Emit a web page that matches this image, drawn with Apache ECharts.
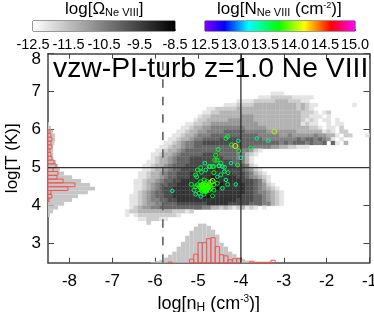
<!DOCTYPE html>
<html><head><meta charset="utf-8">
<style>html,body{margin:0;padding:0;background:#fff}#c{width:374px;height:312px}</style>
<script src="https://cdn.jsdelivr.net/npm/echarts@6/dist/echarts.min.js"></script>
</head><body><div id="c"></div>
<script>
// heat map: bottom edge of log T row, log n of first cell, shade digit per 0.1 dex cell (0 = empty)
const heatT = [6.9,6.8,6.7,6.6,6.6,6.5,6.4,6.3,6.2,6.1,6.0,5.9,5.8,5.8,5.7,5.6,5.5,5.4,5.3,5.2,5.1,5.0,4.9,4.8,4.7,4.6,4.5,4.4,4.3,4.2,4.1,4.0,3.9,3.8,3.7,3.6,3.5];
const heatStart = [-3.3,-3.6,-4.1,-4.4,-1.4,-4.8,-4.9,-5.0,-5.1,-5.3,-5.4,-5.5,-5.6,-1.1,-5.7,-5.8,-5.9,-6.0,-6.1,-6.1,-6.2,-6.3,-6.3,-6.4,-6.4,-6.5,-6.5,-6.5,-6.5,-6.6,-6.6,-6.6,-6.6,-6.7,-6.7,-6.4,-6.2];
const heatShade = [
"111","1112222211111","11112222233322211","1112222333333333323211","1",
"1122222333333333333332321","112233333333333333333332221012","1223333333444333333333332211101",
"1223333344444433333333333212101101","1122334444444444433333333331211001011","11233445555555544444333333333322101102",
"1123344555566666555554444444333333121022","112334555666666666665555544544444544331022","1",
"11233455666677777666665555555565665654101","1123455667777777776666666665656665655606103",
"11233455666666666666665555443322111","11233456666666666666554210","1123345666667777666655321",
"123345666777777776665531","1123345666777777777766531","112334566677777777777766521",
"1123345667777788888777765421","112334566777888888888877765321","1123345667778888899888877654321",
"11233456677888888999888887776531","112345667788888899999888887765421","1123456778888889999988888877654321",
"12345667788888899998888888776554321","112345667788888889998888887776654321","112345566778888888888888877776654321",
"1123445566677777778888877777666553210","12344556666666666553323212312101","1223333333322212","1012222222221","1122211","2"];
// left histogram (fraction per log T bin)
const histTBins = [6.1,6.0,5.9,5.8,5.7,5.6,5.5,5.4,5.3,5.2,5.1,5.0,4.9,4.8,4.7,4.6,4.5,4.4,4.3,4.2,4.1,4.0,3.9,3.8,3.7];
const histTGas = [.003,.009,.016,.022,.022,.020,.016,.016,.016,.017,.025,.031,.037,.050,.075,.103,.131,.146,.124,.093,.075,.050,.031,.016,.006];
const histTAbs = [0,0,.006,.009,.012,.009,.012,.006,.009,.012,.019,.025,.016,.031,.028,.047,.084,.062,.009,.012,.003,0,0,0,0];
// bottom histogram (fraction per log n bin)
const histNBins = [-6.1,-6.0,-5.9,-5.8,-5.7,-5.6,-5.5,-5.4,-5.3,-5.2,-5.1,-5.0,-4.9,-4.8,-4.7,-4.6,-4.5,-4.4,-4.3,-4.2,-4.1,-4.0,-3.9,-3.8,-3.7,-3.6,-3.5,-3.4,-3.3];
const histNGas = [.003,.007,.014,.024,.038,.053,.077,.100,.129,.153,.172,.187,.187,.177,.158,.134,.096,.077,.053,.041,.026,.017,.010,.005,.003,.002,0,0,0];
const histNAbs = [0,0,0,0,.003,0,0,0,0,.017,.041,.096,.096,.115,.120,.077,.038,.033,.014,.019,.019,0,0,.007,.002,.002,.002,.002,.012];
// absorbers
const absN = [-3.22,-4.35,-4.31,-4.06,-3.63,-3.36,-4.22,-4.13,-3.77,-4.05,-4.53,-4.59,-4.0,-4.61,-4.56,-4.84,-4.47,-4.23,-4.08,-4.74,-4.66,-4.51,-4.38,-5.60,
-5.016,-4.938,-5.055,-4.92,-4.82,-4.72,-4.64,-4.63,-4.51,-4.43,-4.39,-4.30,-4.47,-4.55,-4.35,-4.31,-4.12,-4.43,-4.66,-4.86,-4.938,-5.055,-5.094,-5.157,-5.03,-5.016,-4.938,-4.86,-4.78,-4.70,-4.66,-4.63,-4.55,-4.86,-4.78,-4.86,-4.938,-4.74,-4.70,-4.63,-4.977,-4.82,-5.055,-4.90,-4.86,-4.82,-4.78,-4.92,-4.74,-4.82,-4.90,
-4.94,-4.90,-4.86,-4.84,-4.80,-4.76,-4.72,-4.96,-4.92,-4.88,-4.84,-4.80,-4.76,-4.88,-4.84,-4.80];
const absT = [5.95,5.77,5.82,5.71,5.77,5.71,5.60,5.57,5.52,5.44,5.48,5.33,5.26,5.20,5.20,5.12,5.12,5.12,5.07,5.03,5.03,5.05,5.01,4.39,
4.94,5.00,4.81,4.88,4.94,5.03,5.03,4.87,5.05,5.03,4.90,4.87,4.81,4.76,4.68,4.56,4.56,4.46,4.26,4.30,4.24,4.30,4.41,4.56,4.76,4.55,4.63,4.68,4.63,4.62,4.65,4.55,4.59,4.55,4.50,4.41,4.46,4.41,4.46,4.41,4.33,4.37,4.50,4.50,4.46,4.47,4.46,4.41,4.55,4.59,4.56,
4.48,4.44,4.42,4.47,4.43,4.48,4.52,4.53,4.53,4.52,4.53,4.54,4.50,4.38,4.39,4.41];
const absLogN = [14.0,13.6,13.6,13.4,13.4,13.4,13.6,14.1,13.6,13.6,13.6,13.7,13.4,13.7,13.6,13.5,13.6,13.4,13.6,13.6,13.6,13.6,13.5,13.4,
13.6,13.6,13.6,13.6,13.5,13.6,13.6,13.7,13.5,13.5,13.4,13.6,13.6,13.4,13.4,13.6,13.4,13.5,13.6,13.6,13.4,13.5,13.6,13.7,13.6,13.6,13.7,13.6,13.7,13.9,14.1,13.6,13.6,13.8,13.8,13.8,13.7,13.8,13.8,13.6,13.6,13.7,13.6,13.8,13.8,13.8,13.8,13.8,13.7,13.7,13.8,
13.8,13.8,13.8,13.8,13.8,13.8,13.8,13.7,13.8,13.8,13.8,13.8,13.8,13.7,13.7,13.8];
const xLabels = [-8,-7,-6,-5,-4,-3,-2,-1];
const yLabels = [3,4,5,6,7,8];
const omegaTicks = [-12.5,-11.5,-10.5,-9.5,-8.5];
const columnTicks = [12.5,13,13.5,14,14.5,15];
const dashedN = -5.82, solidN = -4, solidT = 5;

const font = '"Liberation Sans", Arial, sans-serif';
const stops = [[0,[128,0,255]],[.13,[0,0,255]],[.29,[0,255,255]],[.49,[0,255,0]],[.66,[255,255,0]],[.84,[255,0,0]],[1,[255,0,255]]];
function rainbow(t){
  t=Math.max(0,Math.min(1,t));
  for(let i=1;i<stops.length;i++){ if(t<=stops[i][0]){
    const a=stops[i-1],b=stops[i],f=(t-a[0])/(b[0]-a[0]);
    return 'rgb('+a[1].map((v,k)=>Math.round(v+(b[1][k]-v)*f)).join(',')+')';
  }}
  return 'rgb(255,0,255)';
}
const heatData=[];
heatT.forEach((T,r)=>{
  [...heatShade[r]].forEach((d,i)=>{
    if(d!=='0') heatData.push([heatStart[r]+0.1*i, T, -12.5+0.4*Number(d)]);
  });
});
function cell(params,api){
  const a=api.coord([api.value(0),api.value(1)+0.1]), b=api.coord([api.value(0)+0.1,api.value(1)]);
  const g=Math.round(255*(1-(api.value(2)+12.5)/4));
  return {type:'rect',shape:{x:a[0],y:a[1],width:b[0]-a[0],height:b[1]-a[1]},
    style:{fill:`rgb(${g},${g},${g})`,stroke:`rgb(${g},${g},${g})`,lineWidth:0.3}};
}
function hBar(fill,stroke){return function(params,api){
  const a=api.coord([0,api.value(0)+0.1]), b=api.coord([api.value(1),api.value(0)]);
  return {type:'rect',shape:{x:a[0],y:a[1],width:b[0]-a[0],height:b[1]-a[1]},style:{fill:fill,stroke:stroke,lineWidth:1}};
};}
function vBar(fill,stroke){return function(params,api){
  const a=api.coord([api.value(0),api.value(1)]), b=api.coord([api.value(0)+0.1,0]);
  return {type:'rect',shape:{x:a[0],y:a[1],width:b[0]-a[0],height:b[1]-a[1]},style:{fill:fill,stroke:stroke,lineWidth:1}};
};}
function barFill(colors){return function(params,api){
  const a=api.coord([api.value(0),1]), b=api.coord([api.value(1),0]);
  return {type:'rect',shape:{x:a[0],y:a[1],width:b[0]-a[0],height:b[1]-a[1]},
    style:{fill:new echarts.graphic.LinearGradient(0,0,1,0,colors)}};
};}
const axC='#444';
const mainLine={show:true,onZero:false,lineStyle:{color:axC,width:1.5}};
const tick=(vals,len)=>({show:true,inside:true,length:len,customValues:vals,lineStyle:{color:axC,width:1}});
const lab={fontFamily:font,fontSize:17,color:'#000'};
const sub={fontFamily:font,fontSize:12,color:'#000',verticalAlign:'bottom',padding:[7,0,0,0]};
const sup={fontFamily:font,fontSize:10,color:'#000',verticalAlign:'top',padding:[0,0,7,0]};
const rich={s:sub,u:sup,n:{fontFamily:font,fontSize:18,color:'#000'}};

const option={
  animation:false,backgroundColor:'#fff',
  grid:[
    {left:48,top:53.7,width:321.5,height:209,show:false,outerBoundsMode:'none'},
    {left:33,top:21,width:142,height:10,show:true,borderColor:'#333',borderWidth:1,backgroundColor:'transparent',outerBoundsMode:'none'},
    {left:205,top:21,width:150,height:10,show:true,borderColor:'#333',borderWidth:1,backgroundColor:'transparent',outerBoundsMode:'none'}
  ],
  xAxis:[
    {type:'value',gridIndex:0,min:-8.5,max:-1,position:'bottom',splitLine:{show:false},axisLine:mainLine,axisTick:tick(xLabels,5),
     axisLabel:{...lab,customValues:xLabels,margin:10,showMaxLabel:true,formatter:v=>String(v)},
     name:'{n|log[n}{s|H}{n| (cm}{u|-3}{n|)]}',nameLocation:'middle',nameGap:24,nameTextStyle:{rich}},
    {type:'value',gridIndex:0,min:-8.5,max:-1,position:'top',splitLine:{show:false},axisLine:mainLine,axisTick:tick(xLabels,5),axisLabel:{show:false}},
    {type:'value',gridIndex:0,min:0,max:1,show:false},
    {type:'value',gridIndex:1,min:-12.5,max:-8.5,position:'bottom',splitLine:{show:false},axisLine:{show:false},
     axisTick:{show:true,inside:true,length:2,customValues:omegaTicks,lineStyle:{color:'#555'}},
     axisLabel:{...lab,fontSize:14.5,customValues:omegaTicks,margin:6,showMinLabel:true,showMaxLabel:true,formatter:v=>v.toFixed(1)}},
    {type:'value',gridIndex:2,min:12.5,max:15,position:'bottom',splitLine:{show:false},axisLine:{show:false},
     axisTick:{show:true,inside:true,length:2,customValues:columnTicks,lineStyle:{color:'#555'}},
     axisLabel:{...lab,fontSize:14.5,customValues:columnTicks,margin:6,showMinLabel:true,showMaxLabel:true,formatter:v=>v.toFixed(1)}}
  ],
  yAxis:[
    {type:'value',gridIndex:0,min:2.5,max:8,position:'left',splitLine:{show:false},axisLine:mainLine,axisTick:tick(yLabels,6),
     axisLabel:{...lab,customValues:yLabels,margin:7,showMaxLabel:true,formatter:v=>v===8?'{e|8}':String(v),
       rich:{e:{fontFamily:font,fontSize:17,color:'#000',padding:[11,0,0,0]}}},
     name:'log[T (K)]',nameLocation:'middle',nameGap:27,nameTextStyle:{fontFamily:font,fontSize:17,color:'#000'}},
    {type:'value',gridIndex:0,min:2.5,max:8,position:'right',splitLine:{show:false},axisLine:mainLine,axisTick:tick(yLabels,6),axisLabel:{show:false}},
    {type:'value',gridIndex:0,min:0,max:1,show:false},
    {type:'value',gridIndex:1,min:0,max:1,show:false},
    {type:'value',gridIndex:2,min:0,max:1,show:false}
  ],
  series:[
    {type:'custom',xAxisIndex:0,yAxisIndex:0,clip:true,renderItem:cell,data:heatData,z:1},
    {type:'custom',xAxisIndex:2,yAxisIndex:0,renderItem:hBar('#c6c6c6','none'),data:histTBins.map((b,i)=>[b,histTGas[i]]),z:2},
    {type:'custom',xAxisIndex:0,yAxisIndex:2,renderItem:vBar('#c6c6c6','none'),data:histNBins.map((b,i)=>[b,histNGas[i]]),z:2},
    {type:'custom',xAxisIndex:2,yAxisIndex:0,renderItem:hBar('none','#f25555'),data:histTBins.map((b,i)=>[b,histTAbs[i]]).filter(d=>d[1]>0),z:3},
    {type:'custom',xAxisIndex:0,yAxisIndex:2,renderItem:vBar('none','#f25555'),data:histNBins.map((b,i)=>[b,histNAbs[i]]).filter(d=>d[1]>0),z:3},
    {type:'line',xAxisIndex:0,yAxisIndex:0,data:[[dashedN,2.5],[dashedN,8]],symbol:'none',lineStyle:{color:'#555',width:1.5,type:[8.5,9]},z:4},
    {type:'line',xAxisIndex:0,yAxisIndex:0,data:[[solidN,2.5],[solidN,8]],symbol:'none',lineStyle:{color:'#222',width:1.2},z:4},
    {type:'line',xAxisIndex:0,yAxisIndex:0,data:[[-8.5,solidT],[-1,solidT]],symbol:'none',lineStyle:{color:'#333',width:1.2},z:4},
    {type:'scatter',xAxisIndex:0,yAxisIndex:0,z:5,
     data:absN.map((n,i)=>({value:[n,absT[i]],symbolSize:Math.max(3.5,3.5+(absLogN[i]-13.4)*2.2),
       itemStyle:{color:'transparent',borderColor:rainbow((absLogN[i]-12.5)/2.5),borderWidth:1,opacity:0.95}}))},
    {type:'custom',xAxisIndex:3,yAxisIndex:3,renderItem:barFill([{offset:0,color:'#fff'},{offset:1,color:'#000'}]),data:[[-12.5,-8.5]],z:1},
    {type:'custom',xAxisIndex:4,yAxisIndex:4,renderItem:barFill(stops.map(s=>({offset:s[0],color:'rgb('+s[1].join(',')+')'}))),data:[[12.5,15]],z:1}
  ],
  graphic:[
    {type:'text',left:53,top:55,z:10,style:{text:'vzw-PI-turb z=1.0 Ne VIII',font:'28.3px '+font,fill:'#000'}},
    {type:'text',left:65,top:1,z:10,style:{text:'{n|log[Ω}{s|Ne VIII}{n|]}',rich:{n:{fontFamily:font,fontSize:17,color:'#000'},s:{...sub,fontSize:11,padding:[6,0,0,0]}}}},
    {type:'text',left:217,top:1,z:10,style:{text:'{n|log[N}{s|Ne VIII}{n| (cm}{u|-2}{n|)]}',rich:{n:{fontFamily:font,fontSize:17,color:'#000'},s:{...sub,fontSize:11,padding:[6,0,0,0]},u:{...sup,fontSize:9}}}}
  ]
};
echarts.init(document.getElementById('c'),null,{renderer:'canvas'}).setOption(option);
</script></body></html>
